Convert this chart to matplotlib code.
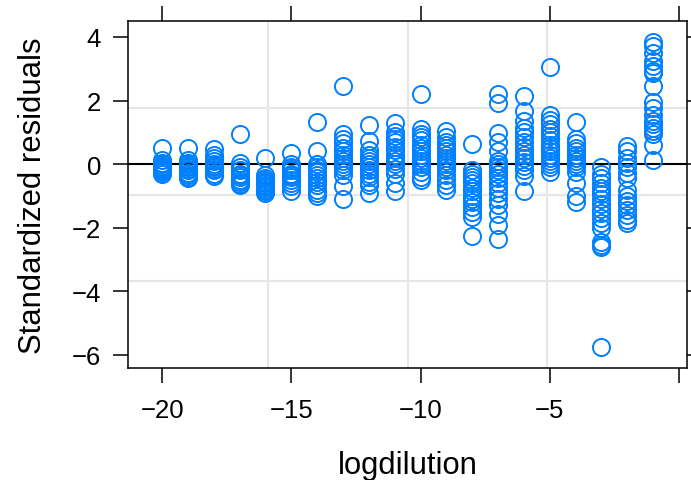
import matplotlib
matplotlib.use("Agg")
import matplotlib.pyplot as plt
import numpy as np

plt.rcParams["font.family"] = ["Liberation Sans", "DejaVu Sans"]

# Standardized residuals grouped by log dilution level
res_m20 = [0.5, 0.12, 0.05, 0.0, -0.05, -0.1, -0.12, -0.15, -0.2, -0.22, -0.25, -0.3]
res_m19 = [0.52, 0.12, 0.05, 0.0, -0.05, -0.1, -0.15, -0.2, -0.28, -0.35, -0.4, -0.45]
res_m18 = [0.48, 0.3, 0.18, 0.1, 0.0, -0.05, -0.1, -0.15, -0.2, -0.3, -0.38]
res_m17 = [0.95, 0.02, -0.1, -0.2, -0.3, -0.35, -0.4, -0.5, -0.55, -0.62, -0.65]
res_m16 = [0.2, -0.35, -0.45, -0.5, -0.55, -0.6, -0.65, -0.7, -0.75, -0.8, -0.85, -0.9]
res_m15 = [0.35, 0.0, -0.1, -0.15, -0.2, -0.3, -0.35, -0.4, -0.5, -0.6, -0.7, -0.85]
res_m14 = [1.32, 0.42, 0.0, -0.1, -0.2, -0.25, -0.35, -0.45, -0.55, -0.65, -0.8, -0.9, -1.0]
res_m13 = [2.45, 0.95, 0.8, 0.65, 0.5, 0.4, 0.3, 0.2, 0.1, 0.0, -0.1, -0.2, -0.35, -0.7, -1.1]
res_m12 = [1.22, 0.72, 0.45, 0.3, 0.2, 0.1, 0.0, -0.1, -0.2, -0.3, -0.4, -0.55, -0.65, -0.9]
res_m11 = [1.3, 1.0, 0.9, 0.8, 0.7, 0.55, 0.45, 0.3, 0.2, 0.1, 0.0, -0.15, -0.3, -0.6, -0.85]
res_m10 = [2.2, 1.1, 0.95, 0.85, 0.75, 0.6, 0.5, 0.4, 0.3, 0.2, 0.1, 0.0, -0.1, -0.25, -0.4, -0.5]
res_m9 = [1.05, 0.85, 0.7, 0.6, 0.5, 0.4, 0.3, 0.2, 0.1, 0.0, -0.1, -0.2, -0.35, -0.5, -0.65, -0.8]
res_m8 = [0.63, -0.2, -0.3, -0.4, -0.5, -0.6, -0.75, -0.85, -1.0, -1.1, -1.2, -1.35, -1.5, -1.65, -2.25]
res_m7 = [2.2, 1.93, 0.97, 0.7, 0.42, 0.1, 0.0, -0.1, -0.2, -0.3, -0.45, -0.6, -0.75, -0.9,
          -1.1, -1.3, -1.57, -1.9, -2.36]
res_m6 = [2.15, 1.68, 1.36, 1.15, 1.0, 0.85, 0.7, 0.55, 0.42, 0.3, 0.2, 0.08, -0.05, -0.2,
          -0.37, -0.85]
res_m5 = [3.05, 1.55, 1.4, 1.25, 1.1, 1.0, 0.9, 0.75, 0.6, 0.5, 0.4, 0.3, 0.2, 0.1, 0.0,
          -0.1, -0.25]
res_m4 = [1.32, 0.8, 0.65, 0.52, 0.42, 0.3, 0.2, 0.1, 0.0, -0.1, -0.25, -0.6, -1.0, -1.2]
res_m3 = [-0.1, -0.3, -0.45, -0.6, -0.75, -0.85, -0.95, -1.1, -1.25, -1.4, -1.55, -1.7,
          -1.85, -2.0, -2.45, -2.55, -2.62, -5.75]
res_m2 = [0.58, 0.4, 0.2, 0.05, -0.1, -0.28, -0.45, -0.8, -1.0, -1.15, -1.3, -1.45, -1.6,
          -1.75, -1.85]
res_m1 = [3.85, 3.72, 3.5, 3.25, 3.1, 2.93, 2.85, 2.47, 1.95, 1.78, 1.55, 1.35, 1.25, 1.15,
          1.05, 0.95, 0.6, 0.12]

dilution_levels = list(range(-20, 0))
residual_groups = [res_m20, res_m19, res_m18, res_m17, res_m16, res_m15, res_m14, res_m13,
                   res_m12, res_m11, res_m10, res_m9, res_m8, res_m7, res_m6, res_m5,
                   res_m4, res_m3, res_m2, res_m1]

x_ticks = [-20, -15, -10, -5, 0]
x_tick_labels = ["\u221220", "\u221215", "\u221210", "\u22125", ""]
y_ticks = [4, 2, 0, -2, -4, -6]
y_tick_labels = ["4", "2", "0", "\u22122", "\u22124", "\u22126"]

xs = np.concatenate([[lv] * len(g) for lv, g in zip(dilution_levels, residual_groups)])
ys = np.concatenate([np.asarray(g, dtype=float) for g in residual_groups])

fig = plt.figure(figsize=(6.91, 4.81), dpi=100)
ax = fig.add_axes([128 / 691, 1 - 369 / 481, 559 / 691, 347 / 481])

xlim = (-21.32, 0.31)
ylim = (-6.41, 4.50)
ax.set_xlim(*xlim)
ax.set_ylim(*ylim)

# background grid: three evenly spaced lines across each direction
grid_col = "#e6e6e6"
for k in (1, 2, 3):
    gx = xlim[0] + (xlim[1] - xlim[0]) * k / 4
    gy = ylim[0] + (ylim[1] - ylim[0]) * k / 4
    ax.axvline(gx, color=grid_col, lw=1.5, zorder=0)
    ax.axhline(gy, color=grid_col, lw=1.5, zorder=0)

ax.axhline(0, color="black", lw=1.5, zorder=1)

ax.plot(xs, ys, linestyle="none", marker="o", markersize=12.3,
        markerfacecolor="none", markeredgecolor="#0080ff", markeredgewidth=1.4,
        zorder=2)

ax.set_xticks(x_ticks)
ax.set_xticklabels(x_tick_labels)
ax.set_yticks(y_ticks)
ax.set_yticklabels(y_tick_labels)
ax.tick_params(axis="both", which="both", direction="out", length=10.5, width=1.1,
               labelsize=18.5, color="black",
               top=True, right=True, labeltop=False, labelright=False)
ax.tick_params(axis="x", pad=11)
ax.tick_params(axis="y", pad=9)

for sp in ax.spines.values():
    sp.set_linewidth(1.1)
    sp.set_color("black")

ax.set_xlabel("logdilution", fontsize=22.3, labelpad=20)
ax.set_ylabel("Standardized residuals", fontsize=22.3, labelpad=17)

fig.savefig("out.png", dpi=100)
